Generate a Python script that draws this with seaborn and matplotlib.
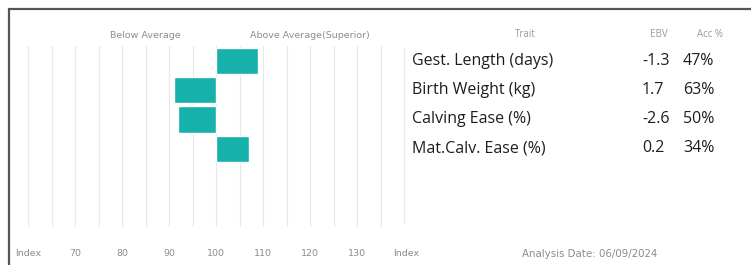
import numpy as np
import pandas as pd
import matplotlib
matplotlib.use("Agg")
import matplotlib.pyplot as plt
import seaborn as sns

# data
traits = ["Gest. Length (days)", "Birth Weight (kg)", "Calving Ease (%)", "Mat.Calv. Ease (%)"]
index_scores = [109, 91, 92, 107]
ebv = ["-1.3", "1.7", "-2.6", "0.2"]
acc = ["47%", "63%", "50%", "34%"]
tick_values = [70, 80, 90, 100, 110, 120, 130]
analysis_date = "06/09/2024"

W, H = 751, 265
BAR_COLOR = "#17b1ab"
GREY_TXT = "#8c8c8c"


def fx(px):
    return px / W


def fy(py):
    return 1 - py / H


sns.set_theme(style="white")
plt.rcParams["font.family"] = ["DejaVu Sans"]

fig = plt.figure(figsize=(W / 100, H / 100), dpi=100, facecolor="white", edgecolor="none")

# index bar chart, bars grow from 100
df = pd.DataFrame({"trait": traits, "delta": [s - 100 for s in index_scores]})
ax = fig.add_axes([fx(18.6), fy(227), fx(404) - fx(18.6), (227 - 46.4) / H])
sns.barplot(data=df, x="delta", y="trait", order=traits, orient="h",
            color=BAR_COLOR, saturation=1, width=0.9, ax=ax, zorder=3)
ax.set_xlim(-42, 40)
ax.set_ylim(5.68, -0.5)
ax.set_xticks(np.arange(-40, 40, 5), minor=True)
ax.set_xticks([-40] + [v - 100 for v in tick_values])
ax.set_xticklabels(["Index"] + [str(v) for v in tick_values], fontsize=6.8, color=GREY_TXT)
ax.tick_params(axis="x", which="both", length=0, pad=16)
ax.grid(axis="x", which="both", color="#e8e8e8", linewidth=0.9, zorder=0)
ax.set_yticks([])
ax.set_xlabel("")
ax.set_ylabel("")
for s in ax.spines.values():
    s.set_visible(False)

ax.text(-15, -0.72, "Below Average", ha="center", va="bottom", fontsize=6.8, color=GREY_TXT)
ax.text(20, -0.72, "Above Average(Superior)", ha="center", va="bottom", fontsize=6.8, color=GREY_TXT)
fig.text(fx(406.5), fy(254), "Index", ha="center", va="center", fontsize=6.8, color=GREY_TXT)
fig.text(fx(590), fy(254), "Analysis Date: " + analysis_date, ha="center", va="center",
         fontsize=7.4, color=GREY_TXT)

# trait table
fig.add_artist(plt.Line2D([fx(403.5), fx(403.5)], [fy(48), fy(223)], color="#ececec", lw=1))
hdr = dict(ha="center", va="center", fontsize=7, color="#9a9a9a", family="Open Sans")
fig.text(fx(525), fy(34.5), "Trait", **hdr)
fig.text(fx(659), fy(34.5), "EBV", **hdr)
fig.text(fx(710), fy(34.5), "Acc %", **hdr)
row_y = [61.3, 90.3, 119.3, 148.5]
cell = dict(ha="left", va="center", fontsize=11.5, color="#1e1e1e", family="Open Sans",
            fontweight="medium")
for t, e, a, y in zip(traits, ebv, acc, row_y):
    fig.text(fx(412), fy(y), t, **cell)
    fig.text(fx(642), fy(y), e, **cell)
    fig.text(fx(683), fy(y), a, **cell)

# frame: top and left edges only
fig.add_artist(plt.Line2D([fx(9), fx(W + 2)], [fy(8.5), fy(8.5)], color="#555555", lw=1.6))
fig.add_artist(plt.Line2D([fx(9), fx(9)], [fy(8.5), fy(H + 2)], color="#555555", lw=1.6))

fig.savefig("out.png", dpi=100, facecolor="white", edgecolor="none")
